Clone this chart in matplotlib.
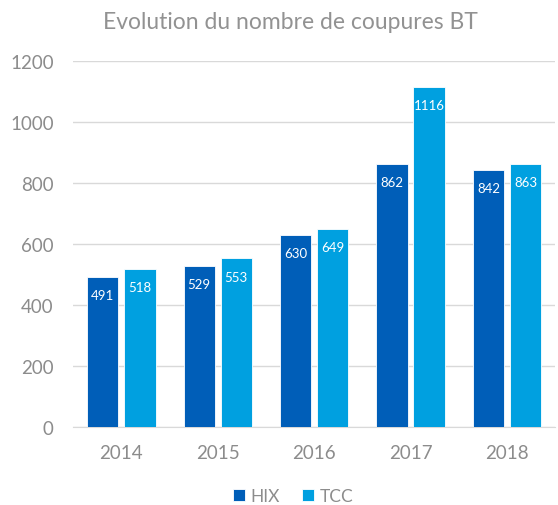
import numpy as np
import matplotlib
matplotlib.use("Agg")
import matplotlib.pyplot as plt

years = ["2014", "2015", "2016", "2017", "2018"]
hix = [491, 529, 630, 862, 842]
tcc = [518, 553, 649, 1116, 863]
series = ["HIX", "TCC"]
colors = ["#005EB8", "#00A0E0"]

plt.rcParams['font.family'] = ['Lato', 'DejaVu Sans']
grey = "#8C8C8C"

fig = plt.figure(figsize=(5.58, 5.06), dpi=100)
ax = fig.add_axes([0.131, 0.154, 0.864, 0.723])

x = np.arange(len(years))
w = 0.325
gap = 0.06
for i, (vals, name, col) in enumerate(zip([hix, tcc], series, colors)):
    off = (i - 0.5) * (w + gap)
    ax.bar(x + off, vals, w, color=col, label=name, edgecolor="white", linewidth=0.6, zorder=3)
    for xi, v in zip(x + off, vals):
        ax.annotate(str(v), (xi, v), xytext=(0, -13), textcoords="offset points",
                    ha="center", va="center", color="white", fontsize=9.5, zorder=4)

ax.set_xlim(-0.5, len(years) - 0.5)
ax.set_ylim(0, 1200)
ax.set_yticks(range(0, 1201, 200))
ax.set_xticks(x)
ax.set_xticklabels(years)
ax.grid(axis="y", color="#D9D9D9", linewidth=1, zorder=0)
for s in ["top", "right", "left"]:
    ax.spines[s].set_visible(False)
ax.spines["bottom"].set_color("#D9D9D9")
ax.tick_params(axis="both", length=0, colors=grey, labelsize=13.5)
ax.tick_params(axis="y", pad=14)
ax.tick_params(axis="x", pad=12)

fig.text(0.52, 0.955, "Evolution du nombre de coupures BT", ha="center", va="center",
         fontsize=16.5, color="#929292")

leg = fig.legend(loc="center", bbox_to_anchor=(0.525, 0.018), ncol=2, frameon=False,
                 fontsize=12.5, handlelength=0.7, handleheight=0.7, handletextpad=0.3,
                 columnspacing=1.3)
for t in leg.get_texts():
    t.set_color(grey)

fig.savefig("out.png", dpi=100)
